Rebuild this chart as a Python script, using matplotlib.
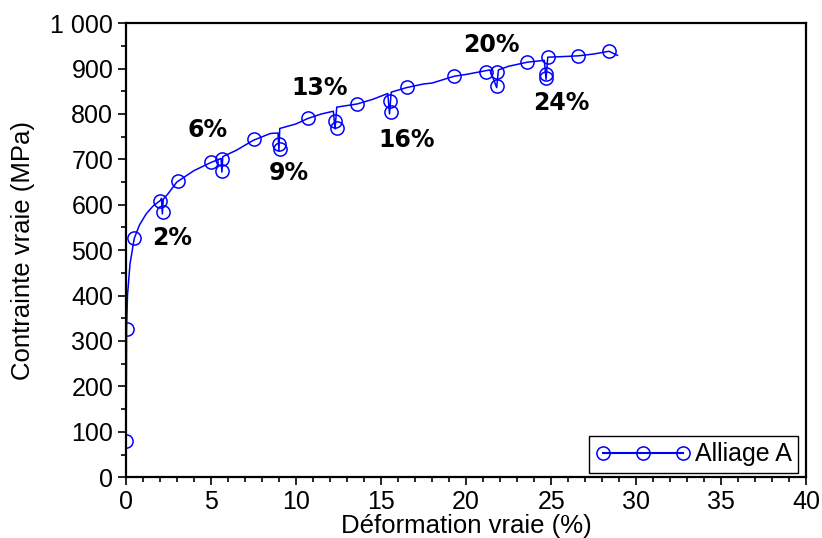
# courbe contrainte-deformation vraie, alliage A, avec decharges
import matplotlib
matplotlib.use('Agg')
import matplotlib.pyplot as plt
from matplotlib.lines import Line2D

plt.rcParams['font.family'] = ['Liberation Sans', 'DejaVu Sans']

# courbe continue (deformation %, contrainte MPa)
strain = [0, 0.02, 0.05, 0.1, 0.25, 0.5, 0.8, 1.2, 1.6, 2.05, 2.1, 2.15, 2.2,
          2.5, 3.0, 4.0, 5.0, 5.6, 5.65, 5.7, 6.5, 7.5, 8.5, 8.95, 9.0, 9.05,
          10.0, 10.7, 11.5, 12.2, 12.3, 12.4, 13.6, 14.5, 15.4, 15.5, 15.6,
          16.5, 17.5, 18.0, 19.3, 20.0, 21.4, 21.8, 21.9, 22.5, 23.6, 24.6,
          24.7, 24.8, 25.5, 26.6, 27.5, 28.4, 28.9]
stress = [0, 80, 326, 400, 470, 526, 555, 580, 597, 610, 614, 580, 612,
          625, 650, 675, 693, 702, 672, 706, 720, 742, 757, 758, 718, 768,
          778, 790, 800, 806, 767, 815, 822, 832, 845, 800, 848,
          858, 866, 868, 883, 887, 897, 858, 897, 905, 914, 918,
          876, 925, 926, 928, 932, 938, 929]

# marqueurs (cercles ouverts)
mk_strain = [0, 0.1, 0.47, 2.0, 2.18, 3.06, 5.0, 5.65, 5.65, 7.53, 9.0, 9.06,
             10.7, 12.3, 12.4, 13.6, 15.5, 15.6, 16.5, 19.3, 21.2, 21.8, 21.8,
             23.6, 24.8, 24.7, 24.7, 26.6, 28.4]
mk_stress = [79, 326, 526, 608, 584, 652, 694, 700, 674, 744, 733, 722,
             791, 784, 769, 822, 828, 804, 859, 883, 892, 892, 861,
             914, 925, 888, 879, 927, 938]

# etiquettes des decharges
labels = ['2%', '6%', '9%', '13%', '16%', '20%', '24%']
lab_x = [2.7, 4.8, 9.6, 11.4, 16.5, 21.5, 25.6]
lab_y = [526, 764, 670, 857, 742, 951, 824]

xticks = [0, 5, 10, 15, 20, 25, 30, 35, 40]
yticks = [0, 100, 200, 300, 400, 500, 600, 700, 800, 900, 1000]
ytick_labels = ['0', '100', '200', '300', '400', '500', '600', '700', '800', '900', '1 000']

fig = plt.figure(figsize=(8.22, 5.38), dpi=100)
ax = fig.add_axes([0.153, 0.113, 0.828, 0.844])

ax.plot(strain, stress, color='blue', lw=1.1)
ax.plot(mk_strain, mk_stress, ls='none', marker='o', ms=9.5,
        mfc='none', mec='blue', mew=1.1)

for t, x, y in zip(labels, lab_x, lab_y):
  ax.text(x, y, t, ha='center', va='center', fontsize=17,
          fontweight='bold', family='DejaVu Sans')

ax.set_xlim(0, 40)
ax.set_ylim(0, 1000)
ax.set_xticks(xticks)
ax.set_xticks(range(0, 41), minor=True)
ax.set_yticks(yticks)
ax.set_yticklabels(ytick_labels)
ax.set_yticks(range(0, 1001, 50), minor=True)
ax.tick_params(which='both', direction='out', labelsize=18, width=1.2, pad=3)
ax.tick_params(which='major', length=6)
ax.tick_params(which='minor', length=3.5)

for s in ax.spines.values():
  s.set_linewidth(1.6)

ax.set_xlabel('Déformation vraie (%)', fontsize=18.5, labelpad=0)
ax.set_ylabel('Contrainte vraie (MPa)', fontsize=18.5, labelpad=11)

h = Line2D([], [], color='blue', lw=1.5, marker='o', ms=9.5,
           mfc='none', mec='blue', mew=1.1)
leg = ax.legend([h], ['Alliage A'], loc='lower right', numpoints=3,
                handlelength=3.8, fontsize=18, fancybox=False,
                edgecolor='black', framealpha=1, borderpad=0.25,
                handletextpad=0.2, borderaxespad=0,
                bbox_to_anchor=(0.988, 0.01))
leg.get_frame().set_linewidth(1.0)

plt.savefig('out.png', dpi=100)
